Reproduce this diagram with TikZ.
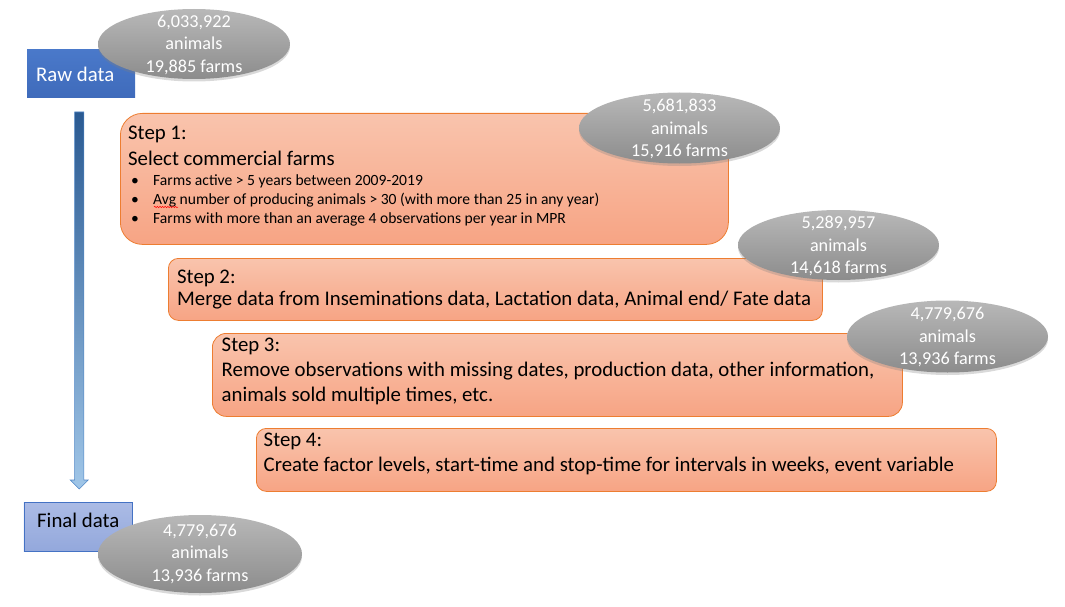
\documentclass[tikz,border=0pt]{standalone}
\usepackage{fontspec}
\setmainfont{Carlito}
\usetikzlibrary{shapes.geometric,shadows,decorations.pathmorphing,calc}

\definecolor{rawfill}{HTML}{4472C4}
\definecolor{rawtop}{HTML}{4A79CA}
\definecolor{rawbot}{HTML}{3F6BBB}
\definecolor{fintop}{HTML}{ABBBE5}
\definecolor{finbot}{HTML}{93A8DC}
\definecolor{steptop}{HTML}{F9C4AD}
\definecolor{stepbot}{HTML}{F7A484}
\definecolor{stepedge}{HTML}{ED7D31}
\definecolor{ovaltop}{HTML}{B8B8B8}
\definecolor{ovalbot}{HTML}{8C8C8C}
\definecolor{arrtop}{HTML}{2A5A92}
\definecolor{arrbot}{HTML}{A0C6E8}
\definecolor{arredge}{HTML}{4F86C6}

\newcommand{\bigtxt}[1]{\fontsize{20.8}{#1}\selectfont}
\newcommand{\smalltxt}{\fontsize{15.6}{19}\selectfont}
\newcommand{\counttxt}{\fontsize{18.2}{22.5}\selectfont}
\newcommand{\bul}[1]{\makebox[22pt][l]{\textbullet}#1}

\tikzset{
  stepbox/.style={draw=stepedge, line width=0.8pt, top color=steptop,
    bottom color=stepbot, anchor=north west, inner sep=0pt},
  databox/.style={anchor=north west, inner sep=0pt},
  countoval/.style={ellipse, inner sep=0pt, top color=ovaltop, bottom color=ovalbot,
    drop shadow={opacity=0.3, shadow xshift=0pt, shadow yshift=-2.5pt}},
  counttext/.style={text=white, font=\counttxt, align=center, inner sep=0pt},
  % anchored at the baseline of the last line
  steptext/.style={anchor=base west, inner sep=0pt, align=left},
}

\begin{document}
\begin{tikzpicture}[x=1pt, y=-1pt]
\useasboundingbox (0,0) rectangle (1065,607);

% data boxes at the two ends of the pipeline
\node[databox, fill=rawfill, top color=rawtop, bottom color=rawbot,
      minimum width=108pt, minimum height=48pt] (raw) at (27,49) {};
\node[text=white, font=\bigtxt{24}, inner sep=0pt, anchor=base west] (rawt) at (36,81.5) {Raw data};

\node[databox, draw=rawfill, line width=0.8pt, top color=fintop, bottom color=finbot,
      minimum width=108pt, minimum height=49pt] (fin) at (23.5,502) {};
\node[font=\bigtxt{24}, inner sep=0pt, anchor=base west] (fint) at (37,527) {Final data};

% flow arrow
\coordinate (atop) at (79.2,112);
\coordinate (atip) at (79.2,489);
\path[draw=arredge, line width=0.6pt, top color=arrtop, bottom color=arrbot]
  ($(atop)+(-4.6,0)$) -- ($(atop)+(4.6,0)$) -- ($(atip)+(4.6,-9)$) -- ($(atip)+(9,-9)$)
  -- (atip) -- ($(atip)+(-9,-9)$) -- ($(atip)+(-4.6,-9)$) -- cycle;

% processing steps
\node[stepbox, rounded corners=22pt, minimum width=608pt, minimum height=131pt] (s1) at (120,113) {};
\node[stepbox, rounded corners=10pt, minimum width=654pt, minimum height=62pt] (s2) at (168,258) {};
\node[stepbox, rounded corners=14pt, minimum width=690pt, minimum height=83pt] (s3) at (212,333) {};
\node[stepbox, rounded corners=10pt, minimum width=740pt, minimum height=63pt] (s4) at (256,428) {};

\node[steptext, font=\bigtxt{26}] (s1t) at (128,165) {Step 1:\\Select commercial farms};
\node[steptext, font=\smalltxt] (s1l) at (131,223)
  {\bul{Farms active > 5 years between 2009-2019}\\
   \bul{Avg number of producing animals > 30 (with more than 25 in any year)}\\
   \bul{Farms with more than an average 4 observations per year in MPR}};
\draw[red, line width=0.5pt, decorate, decoration={snake, amplitude=0.7pt, segment length=2.6pt}]
  ($(s1l.base west)+(23,-16)$) -- ($(s1l.base west)+(47,-16)$);

\node[steptext, font=\bigtxt{22.7}] (s2t) at (177,305.7)
  {Step 2:\\Merge data from Inseminations data, Lactation data, Animal end/ Fate data};
\node[steptext, font=\bigtxt{24.7}] (s3t) at (221.5,401)
  {Step 3:\\Remove observations with missing dates, production data, other information,\\animals sold multiple times, etc.};
\node[steptext, font=\bigtxt{25}] (s4t) at (263.5,471.7)
  {Step 4:\\Create factor levels, start-time and stop-time for intervals in weeks, event variable};

% record counts
\node[countoval, minimum width=192pt, minimum height=70pt] (c0) at (194,44) {};
\node[counttext] (c0t) at ([yshift=-1pt]c0.center) {6,033,922\\animals\\19,885 farms};
\node[countoval, minimum width=201pt, minimum height=71pt] (c1) at (679.5,128) {};
\node[counttext] (c1t) at ([yshift=-1pt]c1.center) {5,681,833\\animals\\15,916 farms};
\node[countoval, minimum width=201pt, minimum height=70pt] (c2) at (838.5,245) {};
\node[counttext] (c2t) at ([yshift=-1pt]c2.center) {5,289,957\\animals\\14,618 farms};
\node[countoval, minimum width=201pt, minimum height=72pt] (c3) at (947.5,336.5) {};
\node[counttext] (c3t) at ([yshift=-1pt]c3.center) {4,779,676\\animals\\13,936 farms};
\node[countoval, minimum width=204pt, minimum height=78pt] (c4) at (200,554) {};
\node[counttext] (c4t) at (c4.center) {4,779,676\\animals\\13,936 farms};
\end{tikzpicture}
\end{document}
